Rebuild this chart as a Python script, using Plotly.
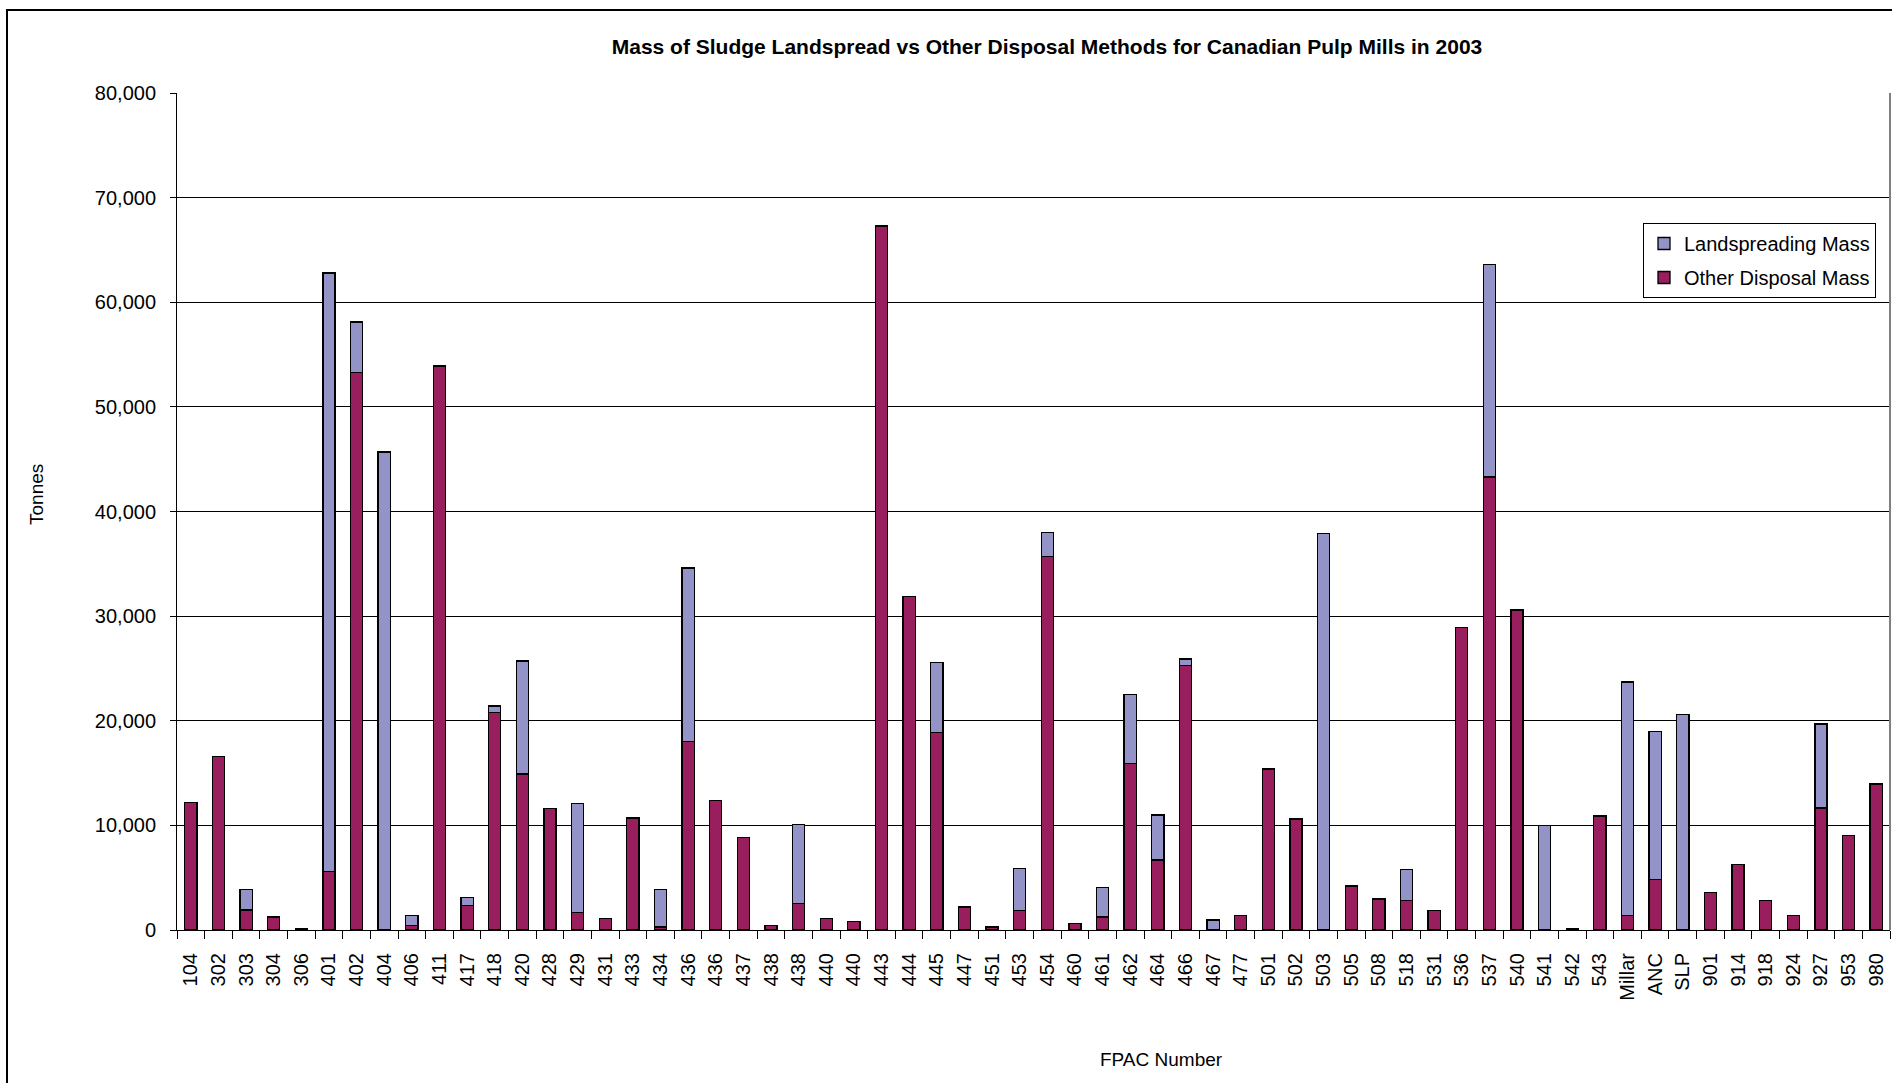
import plotly.graph_objects as go

# FPAC mill numbers (some repeat, so bars are placed by position)
fpac = ["104", "302", "303", "304", "306", "401", "402", "404", "406", "411",
        "417", "418", "420", "428", "429", "431", "433", "434", "436", "436",
        "437", "438", "438", "440", "440", "443", "444", "445", "447", "451",
        "453", "454", "460", "461", "462", "464", "466", "467", "477", "501",
        "502", "503", "505", "508", "518", "531", "536", "537", "540", "541",
        "542", "543", "Millar", "ANC", "SLP", "901", "914", "918", "924", "927",
        "953", "980"]

other_mass = [12200, 16600, 1900, 1250, 150, 5600, 53300, 0, 450, 53900,
              2350, 20800, 14900, 11600, 1700, 1100, 10700, 300, 18000, 12400,
              8850, 450, 2500, 1100, 800, 67300, 31900, 18900, 2200, 300,
              1850, 35700, 600, 1250, 15900, 6700, 25300, 0, 1400, 15400,
              10600, 0, 4200, 2950, 2800, 1850, 28900, 43300, 30600, 0,
              150, 10900, 1400, 4800, 0, 3600, 6250, 2800, 1400, 11650,
              9000, 13950]

land_mass = [0, 0, 2000, 0, 0, 57200, 4800, 45700, 950, 0,
             750, 600, 10800, 0, 10400, 0, 0, 3600, 16600, 0,
             0, 0, 7600, 0, 0, 0, 0, 6700, 0, 0,
             4050, 2300, 0, 2800, 6600, 4300, 600, 950, 0, 0,
             0, 37900, 0, 0, 2950, 0, 0, 20300, 0, 10000,
             0, 0, 22300, 14150, 20600, 0, 0, 0, 0, 8050,
             0, 0]

y_ticks = [0, 10000, 20000, 30000, 40000, 50000, 60000, 70000, 80000]

COLOR_OTHER = "#991E5E"
COLOR_LAND = "#9393C8"
FONT = "Arial, Liberation Sans, sans-serif"

W, H = 1892, 1083
L, R, T, B = 177, 1890, 93, 930   # plot area in pixels


def px_x(p):
    return (p - L) / (R - L)


def px_y(p):
    return (B - p) / (B - T)


pos = list(range(len(fpac)))

fig = go.Figure()
fig.add_trace(go.Bar(
    x=pos, y=other_mass, name="Other Disposal Mass",
    legendgroup="other", legendrank=2,
    marker=dict(color=COLOR_OTHER, line=dict(color="black", width=1.3)),
    customdata=fpac,
    hovertemplate="<b>%{customdata}</b><br>Other: %{y:,}<extra></extra>"
))
fig.add_trace(go.Bar(
    x=pos, y=land_mass, name="Landspreading Mass",
    legendgroup="land", legendrank=1,
    marker=dict(color=COLOR_LAND, line=dict(color="black", width=1.3)),
    customdata=fpac,
    hovertemplate="<b>%{customdata}</b><br>Landspread: %{y:,}<extra></extra>"
))

fig.update_layout(
    width=W, height=H,
    barmode="stack", bargap=0.56,
    paper_bgcolor="white", plot_bgcolor="white",
    font=dict(family=FONT, size=20, color="black"),
    margin=dict(l=L, r=W - R, t=T, b=H - B, autoexpand=False),
    title=dict(
        text="<b>Mass of Sludge Landspread vs Other Disposal Methods for Canadian Pulp Mills in 2003</b>",
        x=1047 / W, xanchor="center", y=1 - 47 / H, yanchor="middle",
        font=dict(family=FONT, size=21)
    ),
    legend=dict(
        x=px_x(1643), y=px_y(223), xanchor="left", yanchor="top",
        bordercolor="black", borderwidth=1, bgcolor="white",
        font=dict(size=20), traceorder="grouped", tracegroupgap=5
    ),
    showlegend=True,
)

fig.update_xaxes(
    range=[-0.5, len(fpac) - 0.5],
    tickmode="array", tickvals=pos, ticktext=fpac,
    tickangle=-90, ticks="", ticklabelstandoff=14,
    showgrid=False, zeroline=False,
    showline=True, linecolor="black", linewidth=1,
    minor=dict(tickmode="linear", tick0=-0.5, dtick=1, ticks="outside",
               ticklen=8, tickcolor="black", tickwidth=1, showgrid=False),
    tickfont=dict(size=20),
)
fig.update_yaxes(
    range=[0, 80000],
    tickmode="array", tickvals=y_ticks,
    tickformat=",", ticks="outside", ticklen=6, tickcolor="black",
    ticklabelstandoff=10,
    showgrid=True, gridcolor="black", gridwidth=1,
    zeroline=False, showline=True, linecolor="black", linewidth=1,
    tickfont=dict(size=20),
)

# axis titles
fig.add_annotation(text="Tonnes", x=px_x(36), y=px_y(495), xref="paper", yref="paper",
                   xanchor="center", yanchor="middle",
                   textangle=-90, showarrow=False, font=dict(size=19))
fig.add_annotation(text="FPAC Number", x=px_x(1161), y=px_y(1059), xref="paper", yref="paper",
                   xanchor="center", yanchor="middle",
                   showarrow=False, font=dict(size=19))

# plot area right edge and outer chart border
fig.add_shape(type="line", xref="paper", yref="paper", x0=1, x1=1, y0=0, y1=1,
              line=dict(color="#808080", width=2))
fig.add_shape(type="rect", xref="paper", yref="paper",
              x0=px_x(7), x1=px_x(1960), y0=px_y(1150), y1=px_y(10),
              line=dict(color="black", width=2), layer="below")

fig.write_html("out.html", config={"displayModeBar": False},
               post_script="document.body.style.margin='0';")
